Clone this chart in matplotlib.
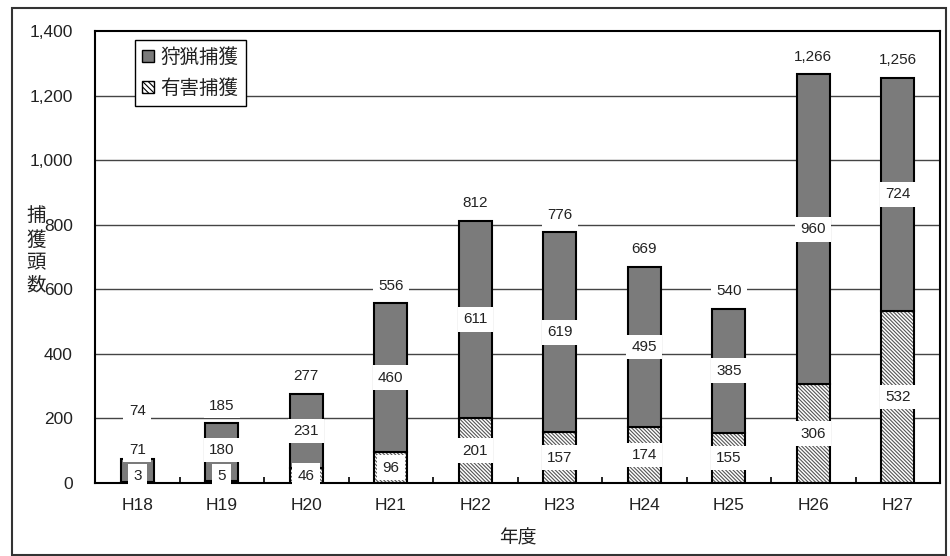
import matplotlib.pyplot as plt
import matplotlib.patches as mpatches
import numpy as np

plt.rcParams['font.family'] = ['Liberation Sans', 'Noto Sans CJK JP', 'DejaVu Sans']
plt.rcParams['hatch.linewidth'] = 0.8

# data
years = ['H18', 'H19', 'H20', 'H21', 'H22', 'H23', 'H24', 'H25', 'H26', 'H27']
hunting = [71, 180, 231, 460, 611, 619, 495, 385, 960, 724]   # 狩猟捕獲
harmful = [3, 5, 46, 96, 201, 157, 174, 155, 306, 532]        # 有害捕獲
yticks = [0, 200, 400, 600, 800, 1000, 1200, 1400]

hunting = np.array(hunting)
harmful = np.array(harmful)
totals = hunting + harmful
x = np.arange(len(years))

fig = plt.figure(figsize=(9.5, 5.56), dpi=100)
ax = fig.add_axes([0.1, 0.1313, 0.8895, 0.8129])

# outer frame
fig.patches.append(mpatches.Rectangle((12 / 950, 1 / 556), 934 / 950, 547 / 556,
                                      transform=fig.transFigure, fill=False,
                                      edgecolor='#333333', linewidth=1.5))

ink = '#222222'
gray = '#7b7b7b'
hatch = '\\' * 9
w = 0.39

# gridlines
for t in yticks[1:-1]:
    ax.axhline(t, color='#444444', linewidth=1, zorder=1)

# harmful (hatched, bottom)
ax.bar(x, harmful, w, color='white', edgecolor='#555555', hatch=hatch, linewidth=0, zorder=2)
ax.bar(x, harmful, w, fill=False, edgecolor='black', linewidth=1.5, zorder=3)
# hunting (gray, top)
ax.bar(x, hunting, w, bottom=harmful, color=gray, edgecolor='black', linewidth=1.5, zorder=3)

# data labels with simple overlap avoidance
box = dict(boxstyle='square,pad=0.35', facecolor='white', edgecolor='none')
for i in range(len(years)):
    y_h = max(harmful[i] / 2, 22)
    y_t = max(harmful[i] + hunting[i] / 2, y_h + 80)
    y_s = max(totals[i] + 55, y_t + 120)
    ax.text(x[i], y_h, f'{harmful[i]:,}', ha='center', va='center', fontsize=11,
            color=ink, bbox=box, zorder=5)
    ax.text(x[i], y_t, f'{hunting[i]:,}', ha='center', va='center', fontsize=11,
            color=ink, bbox=box, zorder=5)
    ax.text(x[i], y_s, f'{totals[i]:,}', ha='center', va='center', fontsize=11,
            color=ink, bbox=box, zorder=5)

ax.set_xlim(-0.5, len(years) - 0.5)
ax.set_ylim(0, 1400)
ax.set_yticks(yticks)
ax.set_yticklabels([f'{t:,}' for t in yticks], fontsize=12.5, color=ink)
ax.set_xticks(x)
ax.set_xticklabels(years, fontsize=12.5, color=ink)
ax.set_xticks(np.arange(0.5, len(years) - 1, 1), minor=True)
ax.tick_params(axis='both', which='major', length=0)
ax.tick_params(axis='y', pad=16)
ax.tick_params(axis='x', pad=11)
ax.tick_params(axis='x', which='minor', direction='in', length=4, width=1.2, color='black')
for s in ax.spines.values():
    s.set_linewidth(1.5)
    s.set_color('black')

ax.set_xlabel('年度', fontsize=13.5, color=ink, labelpad=12)
fig.text(36 / 950, 1 - 251 / 556, '捕\n獲\n頭\n数', ha='center', va='center',
         fontsize=14, color=ink, linespacing=1.4)

handles = [mpatches.Patch(facecolor=gray, edgecolor='black', linewidth=1),
           mpatches.Patch(facecolor='white', edgecolor='black', hatch='\\' * 6, linewidth=1)]
leg = ax.legend(handles, ['狩猟捕獲', '有害捕獲'], loc='upper left', bbox_to_anchor=(0.047, 0.98),
                borderaxespad=0, fancybox=False, framealpha=1, edgecolor='black',
                fontsize=14, handlelength=0.6, handleheight=0.6, handletextpad=0.3,
                labelspacing=0.65, borderpad=0.4)
leg.get_frame().set_linewidth(1)
for t in leg.get_texts():
    t.set_color(ink)

fig.savefig('out.png', dpi=100)
